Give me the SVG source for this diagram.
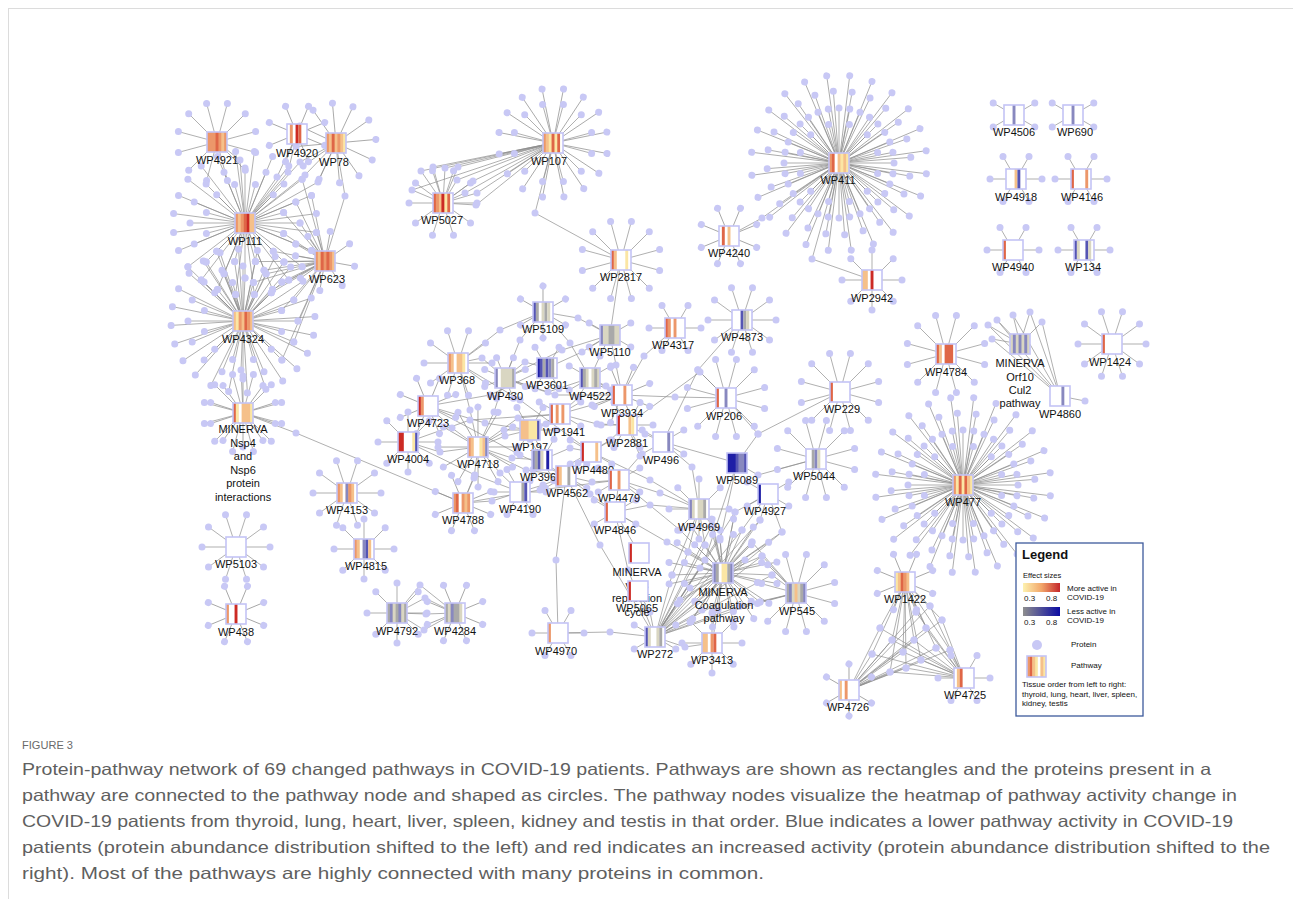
<svg xmlns="http://www.w3.org/2000/svg" xmlns:xlink="http://www.w3.org/1999/xlink" width="1293" height="899" viewBox="0 0 1293 899">
<style>
.ln{fill:none;stroke:#8e8e8e;stroke-width:.7}
.pt{fill:none;stroke:none;marker-start:url(#m);marker-mid:url(#m);marker-end:url(#m)}
.bx{fill:none;stroke:#c4c4f6;stroke-width:1.6}
.bg{fill:#fff}
.lb{font-family:"Liberation Sans",Arial,sans-serif;font-size:11px;fill:#111;text-anchor:middle}
.a1{fill:#fbe6a4}.a2{fill:#f5c08a}.a3{fill:#ec976a}.a4{fill:#df6647}.a5{fill:#cc2a24}
.g1{fill:#d9d6c2}.g2{fill:#a9a9a9}.b2{fill:#8888bf}.b3{fill:#5555b4}.b4{fill:#1f1fa6}
.lg{font-family:"Liberation Sans",Arial,sans-serif;font-size:8px;fill:#111}
.cap{font-family:"Liberation Sans",Arial,sans-serif;font-size:16.5px;fill:#5f5f5f}
</style>
<defs>
<marker id="m" markerUnits="userSpaceOnUse" markerWidth="8" markerHeight="8" refX="4" refY="4" overflow="visible"><circle cx="4" cy="4" r="3.5" fill="#c8c8f5"/></marker>
<linearGradient id="gr"><stop offset="0" stop-color="#fdf2b0"/><stop offset=".5" stop-color="#f2a66a"/><stop offset="1" stop-color="#c4262b"/></linearGradient>
<linearGradient id="gb"><stop offset="0" stop-color="#8e8e8e"/><stop offset="1" stop-color="#0b0ba3"/></linearGradient>
<path id="S4" d="M0 0L20.8 12M0 0L-20.8 12M0 0L-20.8 -12M0 0L20.8 -12"/>
<path id="S6" d="M0 0L26 0M0 0L13 22.5M0 0L-13 22.5M0 0L-26 0M0 0L-13 -22.5M0 0L13 -22.5"/>
<path id="S8" d="M0 0L30 0M0 0L21.2 21.2M0 0L0 30M0 0L-21.2 21.2M0 0L-30 0M0 0L-21.2 -21.2M0 0L0 -30M0 0L21.2 -21.2"/>
<path id="S8s" d="M0 0L20.3 8.4M0 0L8.4 20.3M0 0L-8.4 20.3M0 0L-20.3 8.4M0 0L-20.3 -8.4M0 0L-8.4 -20.3M0 0L8.4 -20.3M0 0L20.3 -8.4"/>
<path id="S10" d="M0 0L34 0M0 0L27.5 20M0 0L10.5 32.3M0 0L-10.5 32.3M0 0L-27.5 20M0 0L-34 0M0 0L-27.5 -20M0 0L-10.5 -32.3M0 0L10.5 -32.3M0 0L27.5 -20"/>
<path id="S12" d="M0 0L38.6 10.4M0 0L28.3 28.3M0 0L10.4 38.6M0 0L-10.4 38.6M0 0L-28.3 28.3M0 0L-38.6 10.4M0 0L-38.6 -10.4M0 0L-28.3 -28.3M0 0L-10.4 -38.6M0 0L10.4 -38.6M0 0L28.3 -28.3M0 0L38.6 -10.4"/>
<path id="S16" d="M0 0L55 0M0 0L50.8 21M0 0L38.9 38.9M0 0L21 50.8M0 0L0 55M0 0L-21 50.8M0 0L-38.9 38.9M0 0L-50.8 21M0 0L-55 0M0 0L-50.8 -21M0 0L-38.9 -38.9M0 0L-21 -50.8M0 0L0 -55M0 0L21 -50.8M0 0L38.9 -38.9M0 0L50.8 -21"/>
<path id="S24" d="M0 0L71.4 9.4M0 0L66.5 27.6M0 0L57.1 43.8M0 0L43.8 57.1M0 0L27.6 66.5M0 0L9.4 71.4M0 0L-9.4 71.4M0 0L-27.6 66.5M0 0L-43.8 57.1M0 0L-57.1 43.8M0 0L-66.5 27.6M0 0L-71.4 9.4M0 0L-71.4 -9.4M0 0L-66.5 -27.6M0 0L-57.1 -43.8M0 0L-43.8 -57.1M0 0L-27.6 -66.5M0 0L-9.4 -71.4M0 0L9.4 -71.4M0 0L27.6 -66.5M0 0L43.8 -57.1M0 0L57.1 -43.8M0 0L66.5 -27.6M0 0L71.4 -9.4"/>
<path id="S24b" d="M0 0L88 0M0 0L85 22.8M0 0L76.2 44M0 0L62.2 62.2M0 0L44 76.2M0 0L22.8 85M0 0L0 88M0 0L-22.8 85M0 0L-44 76.2M0 0L-62.2 62.2M0 0L-76.2 44M0 0L-85 22.8M0 0L-88 0M0 0L-85 -22.8M0 0L-76.2 -44M0 0L-62.2 -62.2M0 0L-44 -76.2M0 0L-22.8 -85M0 0L0 -88M0 0L22.8 -85M0 0L44 -76.2M0 0L62.2 -62.2M0 0L76.2 -44M0 0L85 -22.8"/>
</defs>
<rect width="1293" height="899" fill="#fff"/>
<path d="M8 8.5H1293M8.5 8V899" stroke="#dcdcdc" fill="none"/>
<g id="connectors" class="ln">
<g id="net">
<use href="#S12" transform="translate(217 142)"/>
<use href="#S8" transform="translate(297 134) rotate(22.5)"/>
<use href="#S12" transform="translate(336 143) rotate(10)"/>
<use href="#S12" transform="translate(245 223)"/>
<use href="#S16" transform="translate(245 223)"/>
<use href="#S24" transform="translate(245 223)"/>
<use href="#S8" transform="translate(325 261) rotate(10)"/>
<use href="#S12" transform="translate(243 321)"/>
<use href="#S16" transform="translate(243 321)"/>
<use href="#S24" transform="translate(243 321) rotate(4)"/>
<use href="#S12" transform="translate(243 413)"/>
<use href="#S10" transform="translate(243 413) rotate(18)"/>
<use href="#S10" transform="translate(443 203)"/>
<use href="#S12" transform="translate(553 143)"/>
<use href="#S16" transform="translate(553 143) rotate(11)"/>
<use href="#S12" transform="translate(621 260)"/>
<use href="#S8" transform="translate(729 236) rotate(22.5)"/>
<use href="#S12" transform="translate(839 163)"/>
<use href="#S16" transform="translate(839 163)"/>
<use href="#S16" transform="translate(839 163) rotate(11.25)"/>
<use href="#S24" transform="translate(839 163) rotate(3)"/>
<use href="#S24b" transform="translate(839 163) rotate(7)"/>
<use href="#S8" transform="translate(872 280)"/>
<use href="#S4" transform="translate(1014 115)"/>
<use href="#S4" transform="translate(1073 115)"/>
<use href="#S6" transform="translate(1016 179)"/>
<use href="#S6" transform="translate(1081 179)"/>
<use href="#S6" transform="translate(1013 250)"/>
<use href="#S6" transform="translate(1084 250)"/>
<use href="#S12" transform="translate(946 354)"/>
<use href="#S10" transform="translate(1112 344)"/>
<use href="#S12" transform="translate(963 485)"/>
<use href="#S16" transform="translate(963 485)"/>
<use href="#S16" transform="translate(963 485) rotate(11.25)"/>
<use href="#S24" transform="translate(963 485) rotate(3)"/>
<use href="#S24b" transform="translate(963 485) rotate(7)"/>
<use href="#S8" transform="translate(905 582) rotate(22.5)"/>
<use href="#S6" transform="translate(849 690) rotate(30)"/>
<use href="#S6" transform="translate(964 678)"/>
<use href="#S6" transform="translate(543 312) rotate(30)"/>
<use href="#S4" transform="translate(610 335)"/>
<use href="#S4" transform="translate(547 368) rotate(90)"/>
<use href="#S4" transform="translate(590 378)"/>
<use href="#S8s" transform="translate(505 378)"/>
<use href="#S10" transform="translate(458 363)"/>
<use href="#S8" transform="translate(428 406) rotate(22.5)"/>
<use href="#S8" transform="translate(408 442)"/>
<use href="#S12" transform="translate(478 447) rotate(15)"/>
<use href="#S6" transform="translate(530 430)"/>
<use href="#S4" transform="translate(560 414)"/>
<use href="#S4" transform="translate(542 460) rotate(90)"/>
<use href="#S6" transform="translate(520 492)"/>
<use href="#S4" transform="translate(566 476)"/>
<use href="#S4" transform="translate(591 452)"/>
<use href="#S6" transform="translate(627 425)"/>
<use href="#S8" transform="translate(622 395) rotate(22.5)"/>
<use href="#S4" transform="translate(619 480)"/>
<use href="#S4" transform="translate(615 512)"/>
<use href="#S8" transform="translate(463 503) rotate(22.5)"/>
<use href="#S10" transform="translate(347 493)"/>
<use href="#S8" transform="translate(364 549)"/>
<use href="#S8" transform="translate(397 613)"/>
<use href="#S8" transform="translate(455 613) rotate(22.5)"/>
<use href="#S10" transform="translate(236 547)"/>
<use href="#S8" transform="translate(236 614) rotate(22.5)"/>
<use href="#S6" transform="translate(558 633)"/>
<use href="#S4" transform="translate(655 637)"/>
<use href="#S8" transform="translate(712 643)"/>
<use href="#S12" transform="translate(723 573)"/>
<use href="#S16" transform="translate(723 573) rotate(11)"/>
<use href="#S12" transform="translate(796 593)"/>
<use href="#S8" transform="translate(699 509)"/>
<use href="#S4" transform="translate(768 494)"/>
<use href="#S12" transform="translate(816 459)"/>
<use href="#S4" transform="translate(663 442)"/>
<use href="#S12" transform="translate(726 398)"/>
<use href="#S12" transform="translate(840 392)"/>
<use href="#S10" transform="translate(742 320)"/>
<use href="#S6" transform="translate(675 328)"/>
<path d="M325 261L300 223M325 261L295.8 244M325 261L283.9 261.9M325 261L266 273.8M325 261L316.4 232.4M325 261L311.5 250.6M325 261L302.1 266.8M325 261L288.8 280.1M325 261L272.6 289.5M325 261L283.6 233.4M325 261L273.3 251.3M325 261L255.4 261.6M325 261L295.8 202M325 261L311.5 195.4M325 261L302.1 179.2M325 261L283.6 212.6"/>
<path d="M243 321L245 278M243 321L224 273.8M243 321L206.1 261.9M243 321L266 273.8M243 321L254.4 294.4M243 321L235.6 294.4M243 321L217.4 289.5M243 321L201.2 280.1M243 321L272.6 289.5M243 321L234.6 261.6M243 321L216.7 251.3M243 321L255.4 261.6M243 321L187.9 266.8M243 321L283.9 261.9"/>
<path d="M325 261L298 321M325 261L293.8 300M325 261L281.9 282.1M325 261L264 270.2M325 261L293.8 342M325 261L281.9 359.9M325 261L281.6 310.6M325 261L271.3 292.7M325 261L253.4 282.4"/>
<path d="M245 223L300 162L336 143M245 223L305 175L336 143M245 223L288 172L297 134M245 223L277 177L297 134M245 223L318 182L336 143M217 142L240 160L245 223M325 261L345 196L336 143"/>
<path d="M243 321L241 370L243 413M243 413L296 433L463 503"/>
<path d="M553 143L421 171L443 203M553 143L433 167L443 203M553 143L445 168L443 203M553 143L458 167L443 203M553 143L473 181L443 203M553 143L477 193L443 203M553 143L476 205L443 203M553 143L465 193L443 203M553 143L457 180L443 203M553 143L412 190L443 203"/>
<path d="M553 143L535 213L621 260M621 260L610 335M839 163L762 218L729 236M839 163L812 259L872 280"/>
<path d="M675 328L644 356L622 395M742 320L698 370L663 442M726 398L758 434L840 392M758 434L737 463M622 395L675 397L726 398M627 425L700 372L726 398M663 442L737 463M663 442L692 467L699 509M737 463L758 475L816 459M737 463L720 540L723 573M737 463L705 560L655 637"/>
<path d="M655 637L680 600L723 573M655 637L690 588L723 573M655 637L700 568L723 573M655 637L688 552L723 573M655 637L705 545L723 573M655 637L720 538L723 573M655 637L742 530L723 573M655 637L752 542L723 573M655 637L762 556L723 573M655 637L745 560L723 573M655 637L772 575L723 573M655 637L760 602L723 573M655 637L740 606L723 573M655 637L702 610L723 573M655 637L690 622L723 573M655 637L760 520L723 573M655 637L782 532L723 573M655 637L672 575L723 573M655 637L735 512L723 573M655 637L712 525L723 573"/>
<path d="M699 509L705 545M699 509L688 552M699 509L672 575M699 509L712 525M768 494L742 530M768 494L760 520M768 494L782 532M768 494L735 512M796 593L772 575M796 593L760 602M796 593L762 556M796 593L752 542M796 593L740 606M655 637L685 647L712 643M712 643L718 610L723 573"/>
<path d="M558 633L610 632L655 637M558 633L556 560L566 476M615 512L639 553M638 591L650 612L655 637M615 512L667 542L723 573M619 480L660 493L699 509M615 512L650 505L699 509M615 512L628 570L655 637M566 476L600 545L655 637M619 480L680 530L723 573M699 509L650 480L591 452"/>
<path d="M505 378L520 340L543 312M505 378L525 362L547 368M505 378L548 392L590 378M505 378L562 350L610 335M543 312L578 318L610 335M543 312L570 343L590 378M547 368L582 352L610 335M458 363L482 358L505 378M458 363L470 410L478 447M505 378L494 412L478 447M428 406L452 428L478 447M408 442L440 452L478 447M428 406L485 423L530 430M478 447L505 436L530 430M478 447L512 458L542 460M478 447L500 473L520 492M478 447L474 478L463 503M463 503L492 501L520 492M478 447L518 418L560 414M478 447L526 470L566 476M530 430L546 424L560 414M560 414L578 398L590 378M560 414L592 405L622 395M560 414L597 424L627 425M542 460L570 448L591 452M566 476L578 463L591 452M566 476L592 482L619 480M520 492L543 485L566 476M591 452L610 440L627 425M619 480L640 456L627 425M615 512L590 494L566 476M619 480L615 512M590 378L606 386L622 395M627 425L645 434L663 442M610 335L600 356L590 378M610 335L616 365L622 395M428 406L490 395L547 368M408 442L470 420L560 414M458 363L520 400L591 452M428 406L520 455L566 476M463 503L540 490L619 480M408 442L475 475L520 492M458 363L500 330L543 312M505 378L555 395L622 395"/>
<path d="M397 613L425 598L455 613M397 613L426 614L455 613M397 613L424 630L455 613M397 613L420 585L455 613"/>
<path d="M905 582L880 628L849 690M880 628L964 678M905 582L892 640L849 690M892 640L964 678M905 582L903 652L849 690M903 652L964 678M905 582L914 640L849 690M914 640L964 678M905 582L926 628L849 690M926 628L964 678M905 582L936 648L849 690M936 648L964 678M905 582L921 660L849 690M921 660L964 678M905 582L906 668L849 690M906 668L964 678M905 582L890 672L849 690M890 672L964 678M905 582L930 606L849 690M930 606L964 678M905 582L942 620L849 690M942 620L964 678M905 582L872 654L849 690M872 654L964 678M905 582L916 612L849 690M916 612L964 678M905 582L950 650L849 690M950 650L964 678"/>
<path d="M1020 344L992 339L1060 396M1020 344L988 325L1060 396M1020 344L1013 315L1060 396M1020 344L1030 312L1060 396M1020 344L1042 322L1060 396M1020 344L997 320L1060 396M1060 396L1085 401"/>
</g>
</g>
<g id="proteins" class="pt"><use href="#net"/></g>
<g id="nodes">
<g id="WP4921" transform="translate(207 132)"><rect class="a3" width="20" height="20"/><rect class="a4" x="8.57" width="2.9" height="20"/><rect class="a2" x="14.29" width="2.9" height="20"/><rect class="bx" width="20" height="20"/><text class="lb" x="10" y="31.5">WP4921</text></g>
<g id="WP4920" transform="translate(287 124)"><rect class="bg" width="20" height="20"/><rect class="a3" x="2.86" width="2.9" height="20"/><rect class="a5" x="8.57" width="2.9" height="20"/><rect class="a4" x="11.43" width="2.9" height="20"/><rect class="bx" width="20" height="20"/><text class="lb" x="10" y="32.5">WP4920</text></g>
<g id="WP78" transform="translate(326 133)"><rect class="a2" width="20" height="20"/><rect class="a3" x="0" width="2.9" height="20"/><rect class="a4" x="5.71" width="2.9" height="20"/><rect class="a3" x="11.43" width="2.9" height="20"/><rect class="a1" x="17.14" width="2.9" height="20"/><rect class="bx" width="20" height="20"/><text class="lb" x="8" y="32.5">WP78</text></g>
<g id="WP111" transform="translate(235 213)"><rect class="a2" width="20" height="20"/><rect class="a3" x="0" width="2.9" height="20"/><rect class="a3" x="5.71" width="2.9" height="20"/><rect class="a4" x="8.57" width="2.9" height="20"/><rect class="a5" x="11.43" width="2.9" height="20"/><rect class="bx" width="20" height="20"/><text class="lb" x="10" y="31.5">WP111</text></g>
<g id="WP623" transform="translate(315 251)"><rect class="a3" width="20" height="20"/><rect class="a2" x="2.86" width="2.9" height="20"/><rect class="a4" x="5.71" width="2.9" height="20"/><rect class="a4" x="11.43" width="2.9" height="20"/><rect class="a2" x="17.14" width="2.9" height="20"/><rect class="bx" width="20" height="20"/><text class="lb" x="12" y="32">WP623</text></g>
<g id="WP4324" transform="translate(233 311)"><rect class="a2" width="20" height="20"/><rect class="a1" x="2.86" width="2.9" height="20"/><rect class="a3" x="5.71" width="2.9" height="20"/><rect class="a4" x="11.43" width="2.9" height="20"/><rect class="a3" x="14.29" width="2.9" height="20"/><rect class="bx" width="20" height="20"/><text class="lb" x="10" y="32">WP4324</text></g>
<g id="MINERVA_Nsp4" transform="translate(233 403)"><rect class="a2" width="20" height="20"/><rect class="a4" x="0" width="2.9" height="20"/><rect class="a1" x="2.86" width="2.9" height="20"/><rect class="bg" x="5.71" width="2.9" height="20"/><rect class="a1" x="17.14" width="2.9" height="20"/><rect class="bx" width="20" height="20"/><text class="lb" x="10" y="30">MINERVA</text><text class="lb" x="10" y="43.5">Nsp4</text><text class="lb" x="10" y="57">and</text><text class="lb" x="10" y="70.5">Nsp6</text><text class="lb" x="10" y="84">protein</text><text class="lb" x="10" y="97.5">interactions</text></g>
<g id="WP5027" transform="translate(433 193)"><rect class="a4" width="20" height="20"/><rect class="a3" x="2.86" width="2.9" height="20"/><rect class="a2" x="5.71" width="2.9" height="20"/><rect class="a5" x="8.57" width="2.9" height="20"/><rect class="a1" x="11.43" width="2.9" height="20"/><rect class="bg" x="17.14" width="2.9" height="20"/><rect class="bx" width="20" height="20"/><text class="lb" x="9" y="31">WP5027</text></g>
<g id="WP107" transform="translate(543 133)"><rect class="a1" width="20" height="20"/><rect class="a3" x="0" width="2.9" height="20"/><rect class="a2" x="2.86" width="2.9" height="20"/><rect class="a4" x="8.57" width="2.9" height="20"/><rect class="a4" x="14.29" width="2.9" height="20"/><rect class="bg" x="17.14" width="2.9" height="20"/><rect class="bx" width="20" height="20"/><text class="lb" x="6" y="31.5">WP107</text></g>
<g id="WP2817" transform="translate(611 250)"><rect class="bg" width="20" height="20"/><rect class="a4" x="0" width="2.9" height="20"/><rect class="a2" x="2.86" width="2.9" height="20"/><rect class="a1" x="14.29" width="2.9" height="20"/><rect class="bx" width="20" height="20"/><text class="lb" x="10" y="31">WP2817</text></g>
<g id="WP4240" transform="translate(719 226)"><rect class="bg" width="20" height="20"/><rect class="a4" x="2.86" width="2.9" height="20"/><rect class="a2" x="8.57" width="2.9" height="20"/><rect class="bx" width="20" height="20"/><text class="lb" x="10" y="31">WP4240</text></g>
<g id="WP411" transform="translate(829 153)"><rect class="a2" width="20" height="20"/><rect class="a3" x="0" width="2.9" height="20"/><rect class="a4" x="2.86" width="2.9" height="20"/><rect class="bg" x="5.71" width="2.9" height="20"/><rect class="a1" x="11.43" width="2.9" height="20"/><rect class="a1" x="17.14" width="2.9" height="20"/><rect class="bx" width="20" height="20"/><text class="lb" x="9" y="31">WP411</text></g>
<g id="WP2942" transform="translate(862 270)"><rect class="bg" width="20" height="20"/><rect class="a2" x="0" width="5.8" height="20"/><rect class="a5" x="8.57" width="2.9" height="20"/><rect class="bx" width="20" height="20"/><text class="lb" x="10" y="31.5">WP2942</text></g>
<g id="WP4506" transform="translate(1004 105)"><rect class="bg" width="20" height="20"/><rect class="b2" x="8.57" width="2.9" height="20"/><rect class="bx" width="20" height="20"/><text class="lb" x="10" y="31">WP4506</text></g>
<g id="WP690" transform="translate(1063 105)"><rect class="bg" width="20" height="20"/><rect class="b2" x="8.57" width="2.9" height="20"/><rect class="bx" width="20" height="20"/><text class="lb" x="12" y="31">WP690</text></g>
<g id="WP4918" transform="translate(1006 169)"><rect class="bg" width="20" height="20"/><rect class="a2" x="8.57" width="2.9" height="20"/><rect class="b3" x="11.43" width="2.9" height="20"/><rect class="bx" width="20" height="20"/><text class="lb" x="10" y="31.5">WP4918</text></g>
<g id="WP4146" transform="translate(1071 169)"><rect class="bg" width="20" height="20"/><rect class="a4" x="0" width="2.9" height="20"/><rect class="a3" x="14.29" width="2.9" height="20"/><rect class="bx" width="20" height="20"/><text class="lb" x="11" y="31.5">WP4146</text></g>
<g id="WP4940" transform="translate(1003 240)"><rect class="bg" width="20" height="20"/><rect class="a4" x="0" width="2.9" height="20"/><rect class="bx" width="20" height="20"/><text class="lb" x="10" y="31">WP4940</text></g>
<g id="WP134" transform="translate(1074 240)"><rect class="bg" width="20" height="20"/><rect class="b3" x="0" width="2.9" height="20"/><rect class="g1" x="2.86" width="2.9" height="20"/><rect class="b3" x="11.43" width="2.9" height="20"/><rect class="g1" x="14.29" width="2.9" height="20"/><rect class="bx" width="20" height="20"/><text class="lb" x="9" y="31">WP134</text></g>
<g id="WP4784" transform="translate(936 344)"><rect class="a4" width="20" height="20"/><rect class="a2" x="2.86" width="2.9" height="20"/><rect class="bg" x="5.71" width="2.9" height="20"/><rect class="bg" x="17.14" width="2.9" height="20"/><rect class="bx" width="20" height="20"/><text class="lb" x="10" y="31.5">WP4784</text></g>
<g id="MINERVA_Orf10" transform="translate(1010 334)"><rect class="g1" width="20" height="20"/><rect class="b2" x="2.86" width="2.9" height="20"/><rect class="b2" x="8.57" width="2.9" height="20"/><rect class="b2" x="14.29" width="2.9" height="20"/><rect class="bx" width="20" height="20"/><text class="lb" x="10" y="33">MINERVA</text><text class="lb" x="10" y="47">Orf10</text><text class="lb" x="10" y="60">Cul2</text><text class="lb" x="10" y="73">pathway</text></g>
<g id="WP4860" transform="translate(1050 386)"><rect class="bg" width="20" height="20"/><rect class="b2" x="11.43" width="2.9" height="20"/><rect class="bx" width="20" height="20"/><text class="lb" x="10" y="31.5">WP4860</text></g>
<g id="WP1424" transform="translate(1102 334)"><rect class="bg" width="20" height="20"/><rect class="a4" x="0" width="2.9" height="20"/><rect class="bx" width="20" height="20"/><text class="lb" x="8" y="31.5">WP1424</text></g>
<g id="WP477" transform="translate(953 475)"><rect class="a1" width="20" height="20"/><rect class="a3" x="0" width="2.9" height="20"/><rect class="a4" x="5.71" width="2.9" height="20"/><rect class="a4" x="11.43" width="2.9" height="20"/><rect class="a2" x="14.29" width="2.9" height="20"/><rect class="bx" width="20" height="20"/><text class="lb" x="10" y="31">WP477</text></g>
<g id="WP1422" transform="translate(895 572)"><rect class="a2" width="20" height="20"/><rect class="a1" x="0" width="2.9" height="20"/><rect class="a4" x="5.71" width="2.9" height="20"/><rect class="a3" x="8.57" width="2.9" height="20"/><rect class="bg" x="14.29" width="5.8" height="20"/><rect class="bx" width="20" height="20"/><text class="lb" x="10" y="31">WP1422</text></g>
<g id="WP4726" transform="translate(839 680)"><rect class="bg" width="20" height="20"/><rect class="a2" x="0" width="2.9" height="20"/><rect class="a3" x="5.71" width="2.9" height="20"/><rect class="bx" width="20" height="20"/><text class="lb" x="9" y="31">WP4726</text></g>
<g id="WP4725" transform="translate(954 668)"><rect class="bg" width="20" height="20"/><rect class="a2" x="2.86" width="2.9" height="20"/><rect class="a4" x="5.71" width="2.9" height="20"/><rect class="bx" width="20" height="20"/><text class="lb" x="11" y="31">WP4725</text></g>
<g id="WP5109" transform="translate(533 302)"><rect class="bg" width="20" height="20"/><rect class="b3" x="0" width="2.9" height="20"/><rect class="g2" x="2.86" width="2.9" height="20"/><rect class="g1" x="8.57" width="2.9" height="20"/><rect class="g2" x="11.43" width="2.9" height="20"/><rect class="g1" x="14.29" width="2.9" height="20"/><rect class="bx" width="20" height="20"/><text class="lb" x="10" y="31">WP5109</text></g>
<g id="WP5110" transform="translate(600 325)"><rect class="g1" width="20" height="20"/><rect class="b2" x="0" width="2.9" height="20"/><rect class="g2" x="8.57" width="5.8" height="20"/><rect class="bx" width="20" height="20"/><text class="lb" x="10" y="31">WP5110</text></g>
<g id="WP3601" transform="translate(537 358)"><rect class="bg" width="20" height="20"/><rect class="b4" x="0" width="2.9" height="20"/><rect class="b3" x="2.86" width="2.9" height="20"/><rect class="g2" x="5.71" width="2.9" height="20"/><rect class="b3" x="8.57" width="2.9" height="20"/><rect class="b2" x="11.43" width="2.9" height="20"/><rect class="g2" x="14.29" width="2.9" height="20"/><rect class="bx" width="20" height="20"/><text class="lb" x="10" y="31">WP3601</text></g>
<g id="WP4522" transform="translate(580 368)"><rect class="g1" width="20" height="20"/><rect class="b3" x="0" width="2.9" height="20"/><rect class="g2" x="2.86" width="2.9" height="20"/><rect class="bg" x="8.57" width="2.9" height="20"/><rect class="g2" x="14.29" width="2.9" height="20"/><rect class="bx" width="20" height="20"/><text class="lb" x="10" y="32">WP4522</text></g>
<g id="WP430" transform="translate(495 368)"><rect class="g1" width="20" height="20"/><rect class="b2" x="0" width="2.9" height="20"/><rect class="bg" x="2.86" width="2.9" height="20"/><rect class="g2" x="17.14" width="2.9" height="20"/><rect class="bx" width="20" height="20"/><text class="lb" x="10" y="32">WP430</text></g>
<g id="WP368" transform="translate(448 353)"><rect class="a2" width="20" height="20"/><rect class="a3" x="0" width="2.9" height="20"/><rect class="bg" x="5.71" width="2.9" height="20"/><rect class="a1" x="14.29" width="2.9" height="20"/><rect class="bg" x="17.14" width="2.9" height="20"/><rect class="bx" width="20" height="20"/><text class="lb" x="9" y="31">WP368</text></g>
<g id="WP4723" transform="translate(418 396)"><rect class="bg" width="20" height="20"/><rect class="a5" x="0" width="2.9" height="20"/><rect class="a3" x="2.86" width="2.9" height="20"/><rect class="bx" width="20" height="20"/><text class="lb" x="10" y="31">WP4723</text></g>
<g id="WP4004" transform="translate(398 432)"><rect class="bg" width="20" height="20"/><rect class="a5" x="0" width="5.8" height="20"/><rect class="a1" x="14.29" width="2.9" height="20"/><rect class="b3" x="17.14" width="2.9" height="20"/><rect class="bx" width="20" height="20"/><text class="lb" x="10" y="31">WP4004</text></g>
<g id="WP4718" transform="translate(468 437)"><rect class="bg" width="20" height="20"/><rect class="a3" x="0" width="2.9" height="20"/><rect class="a2" x="2.86" width="2.9" height="20"/><rect class="a1" x="11.43" width="2.9" height="20"/><rect class="a2" x="14.29" width="2.9" height="20"/><rect class="b2" x="17.14" width="2.9" height="20"/><rect class="bx" width="20" height="20"/><text class="lb" x="10" y="31">WP4718</text></g>
<g id="WP197" transform="translate(520 420)"><rect class="a2" width="20" height="20"/><rect class="a1" x="8.57" width="8.6" height="20"/><rect class="b3" x="17.14" width="2.9" height="20"/><rect class="bx" width="20" height="20"/><text class="lb" x="10" y="31">WP197</text></g>
<g id="WP1941" transform="translate(550 404)"><rect class="bg" width="20" height="20"/><rect class="a4" x="0" width="2.9" height="20"/><rect class="a3" x="5.71" width="2.9" height="20"/><rect class="a3" x="11.43" width="2.9" height="20"/><rect class="bx" width="20" height="20"/><text class="lb" x="14" y="32">WP1941</text></g>
<g id="WP396" transform="translate(532 450)"><rect class="bg" width="20" height="20"/><rect class="b2" x="0" width="2.9" height="20"/><rect class="g2" x="2.86" width="2.9" height="20"/><rect class="b3" x="5.71" width="2.9" height="20"/><rect class="g1" x="8.57" width="2.9" height="20"/><rect class="b4" x="14.29" width="2.9" height="20"/><rect class="bx" width="20" height="20"/><text class="lb" x="6" y="31">WP396</text></g>
<g id="WP4190" transform="translate(510 482)"><rect class="bg" width="20" height="20"/><rect class="g2" x="11.43" width="2.9" height="20"/><rect class="b3" x="14.29" width="2.9" height="20"/><rect class="bx" width="20" height="20"/><text class="lb" x="10" y="31">WP4190</text></g>
<g id="WP4562" transform="translate(556 466)"><rect class="bg" width="20" height="20"/><rect class="a4" x="0" width="2.9" height="20"/><rect class="a2" x="2.86" width="2.9" height="20"/><rect class="g2" x="11.43" width="2.9" height="20"/><rect class="bx" width="20" height="20"/><text class="lb" x="11" y="31">WP4562</text></g>
<g id="WP4480" transform="translate(581 442)"><rect class="bg" width="20" height="20"/><rect class="a5" x="0" width="2.9" height="20"/><rect class="a2" x="14.29" width="2.9" height="20"/><rect class="bx" width="20" height="20"/><text class="lb" x="12" y="32">WP4480</text></g>
<g id="WP2881" transform="translate(617 415)"><rect class="bg" width="20" height="20"/><rect class="a5" x="0" width="2.9" height="20"/><rect class="a2" x="11.43" width="2.9" height="20"/><rect class="a1" x="14.29" width="2.9" height="20"/><rect class="bx" width="20" height="20"/><text class="lb" x="10" y="32">WP2881</text></g>
<g id="WP3934" transform="translate(612 385)"><rect class="bg" width="20" height="20"/><rect class="a4" x="0" width="2.9" height="20"/><rect class="a3" x="11.43" width="2.9" height="20"/><rect class="bx" width="20" height="20"/><text class="lb" x="10" y="32">WP3934</text></g>
<g id="WP4479" transform="translate(609 470)"><rect class="bg" width="20" height="20"/><rect class="a4" x="0" width="2.9" height="20"/><rect class="a3" x="8.57" width="2.9" height="20"/><rect class="bx" width="20" height="20"/><text class="lb" x="10" y="32">WP4479</text></g>
<g id="WP4846" transform="translate(605 502)"><rect class="bg" width="20" height="20"/><rect class="a4" x="0" width="2.9" height="20"/><rect class="bx" width="20" height="20"/><text class="lb" x="10" y="32">WP4846</text></g>
<g id="MINERVA_virus" transform="translate(629 543)"><rect class="bg" width="20" height="20"/><rect class="a5" x="0" width="2.9" height="20"/><rect class="bx" width="20" height="20"/><text class="lb" x="8" y="33">MINERVA</text><text class="lb" x="8" y="46">virus</text><text class="lb" x="8" y="59">replication</text><text class="lb" x="8" y="73">cycle</text></g>
<g id="WP5065" transform="translate(628 581)"><rect class="bg" width="20" height="20"/><rect class="a5" x="0" width="2.9" height="20"/><rect class="bx" width="20" height="20"/><text class="lb" x="9" y="31">WP5065</text></g>
<g id="WP4788" transform="translate(453 493)"><rect class="a3" width="20" height="20"/><rect class="a4" x="2.86" width="2.9" height="20"/><rect class="bg" x="5.71" width="2.9" height="20"/><rect class="a2" x="11.43" width="2.9" height="20"/><rect class="bg" x="17.14" width="2.9" height="20"/><rect class="bx" width="20" height="20"/><text class="lb" x="10" y="31">WP4788</text></g>
<g id="WP4153" transform="translate(337 483)"><rect class="a2" width="20" height="20"/><rect class="a3" x="0" width="2.9" height="20"/><rect class="bg" x="5.71" width="2.9" height="20"/><rect class="b2" x="8.57" width="2.9" height="20"/><rect class="a3" x="11.43" width="2.9" height="20"/><rect class="bg" x="17.14" width="2.9" height="20"/><rect class="bx" width="20" height="20"/><text class="lb" x="10" y="31">WP4153</text></g>
<g id="WP4815" transform="translate(354 539)"><rect class="bg" width="20" height="20"/><rect class="a3" x="0" width="2.9" height="20"/><rect class="a2" x="2.86" width="2.9" height="20"/><rect class="b2" x="8.57" width="2.9" height="20"/><rect class="b3" x="11.43" width="2.9" height="20"/><rect class="a2" x="14.29" width="2.9" height="20"/><rect class="bx" width="20" height="20"/><text class="lb" x="12" y="31">WP4815</text></g>
<g id="WP4792" transform="translate(387 603)"><rect class="g2" width="20" height="20"/><rect class="b2" x="2.86" width="2.9" height="20"/><rect class="g1" x="5.71" width="2.9" height="20"/><rect class="b2" x="11.43" width="2.9" height="20"/><rect class="g1" x="14.29" width="2.9" height="20"/><rect class="bx" width="20" height="20"/><text class="lb" x="10" y="31.5">WP4792</text></g>
<g id="WP4284" transform="translate(445 603)"><rect class="g2" width="20" height="20"/><rect class="g1" x="2.86" width="2.9" height="20"/><rect class="b2" x="5.71" width="2.9" height="20"/><rect class="g1" x="14.29" width="2.9" height="20"/><rect class="bg" x="17.14" width="2.9" height="20"/><rect class="bx" width="20" height="20"/><text class="lb" x="10" y="31.5">WP4284</text></g>
<g id="WP5103" transform="translate(226 537)"><rect class="bg" width="20" height="20"/><rect class="bx" width="20" height="20"/><text class="lb" x="10" y="31">WP5103</text></g>
<g id="WP438" transform="translate(226 604)"><rect class="bg" width="20" height="20"/><rect class="a3" x="0" width="2.9" height="20"/><rect class="a5" x="8.57" width="2.9" height="20"/><rect class="bx" width="20" height="20"/><text class="lb" x="10" y="32">WP438</text></g>
<g id="WP4970" transform="translate(548 623)"><rect class="bg" width="20" height="20"/><rect class="a3" x="0" width="2.9" height="20"/><rect class="bx" width="20" height="20"/><text class="lb" x="8" y="32">WP4970</text></g>
<g id="WP272" transform="translate(645 627)"><rect class="bg" width="20" height="20"/><rect class="b3" x="0" width="2.9" height="20"/><rect class="g1" x="2.86" width="2.9" height="20"/><rect class="g1" x="11.43" width="2.9" height="20"/><rect class="g2" x="14.29" width="2.9" height="20"/><rect class="bx" width="20" height="20"/><text class="lb" x="10" y="31">WP272</text></g>
<g id="WP3413" transform="translate(702 633)"><rect class="bg" width="20" height="20"/><rect class="a2" x="0" width="5.8" height="20"/><rect class="a3" x="8.57" width="2.9" height="20"/><rect class="a4" x="11.43" width="2.9" height="20"/><rect class="bx" width="20" height="20"/><text class="lb" x="10" y="31">WP3413</text></g>
<g id="MINERVA_Coagulation" transform="translate(713 563)"><rect class="bg" width="20" height="20"/><rect class="b2" x="0" width="2.9" height="20"/><rect class="g2" x="2.86" width="2.9" height="20"/><rect class="a1" x="8.57" width="5.8" height="20"/><rect class="g2" x="14.29" width="2.9" height="20"/><rect class="b2" x="17.14" width="2.9" height="20"/><rect class="bx" width="20" height="20"/><text class="lb" x="10" y="33">MINERVA</text><text class="lb" x="11" y="46">Coagulation</text><text class="lb" x="11" y="59">pathway</text></g>
<g id="WP545" transform="translate(786 583)"><rect class="g1" width="20" height="20"/><rect class="g2" x="0" width="2.9" height="20"/><rect class="b2" x="2.86" width="2.9" height="20"/><rect class="a2" x="8.57" width="2.9" height="20"/><rect class="g2" x="14.29" width="2.9" height="20"/><rect class="b2" x="17.14" width="2.9" height="20"/><rect class="bx" width="20" height="20"/><text class="lb" x="11" y="32">WP545</text></g>
<g id="WP4969" transform="translate(689 499)"><rect class="g1" width="20" height="20"/><rect class="b2" x="0" width="2.9" height="20"/><rect class="bg" x="5.71" width="2.9" height="20"/><rect class="g2" x="14.29" width="2.9" height="20"/><rect class="bg" x="17.14" width="2.9" height="20"/><rect class="bx" width="20" height="20"/><text class="lb" x="10" y="32">WP4969</text></g>
<g id="WP4927" transform="translate(758 484)"><rect class="bg" width="20" height="20"/><rect class="b4" x="0" width="2.9" height="20"/><rect class="bx" width="20" height="20"/><text class="lb" x="7" y="31">WP4927</text></g>
<g id="WP5089" transform="translate(727 453)"><rect class="b3" width="20" height="20"/><rect class="b4" x="0" width="8.6" height="20"/><rect class="b2" x="11.43" width="5.8" height="20"/><rect class="bx" width="20" height="20"/><text class="lb" x="10" y="31">WP5089</text></g>
<g id="WP5044" transform="translate(806 449)"><rect class="bg" width="20" height="20"/><rect class="g2" x="5.71" width="2.9" height="20"/><rect class="b2" x="8.57" width="2.9" height="20"/><rect class="g1" x="11.43" width="2.9" height="20"/><rect class="bx" width="20" height="20"/><text class="lb" x="8" y="31">WP5044</text></g>
<g id="WP496" transform="translate(653 432)"><rect class="bg" width="20" height="20"/><rect class="b2" x="14.29" width="2.9" height="20"/><rect class="bx" width="20" height="20"/><text class="lb" x="8" y="32">WP496</text></g>
<g id="WP206" transform="translate(716 388)"><rect class="bg" width="20" height="20"/><rect class="a4" x="0" width="2.9" height="20"/><rect class="b2" x="8.57" width="2.9" height="20"/><rect class="bx" width="20" height="20"/><text class="lb" x="8" y="31.5">WP206</text></g>
<g id="WP229" transform="translate(830 382)"><rect class="bg" width="20" height="20"/><rect class="a4" x="0" width="2.9" height="20"/><rect class="bx" width="20" height="20"/><text class="lb" x="12" y="31">WP229</text></g>
<g id="WP4873" transform="translate(732 310)"><rect class="bg" width="20" height="20"/><rect class="b3" x="8.57" width="2.9" height="20"/><rect class="g2" x="11.43" width="2.9" height="20"/><rect class="g1" x="14.29" width="2.9" height="20"/><rect class="bx" width="20" height="20"/><text class="lb" x="10" y="31">WP4873</text></g>
<g id="WP4317" transform="translate(665 318)"><rect class="bg" width="20" height="20"/><rect class="a4" x="0" width="2.9" height="20"/><rect class="a3" x="2.86" width="2.9" height="20"/><rect class="a3" x="8.57" width="2.9" height="20"/><rect class="bx" width="20" height="20"/><text class="lb" x="8" y="31">WP4317</text></g>
</g>
<g id="legend">
<rect x="1016" y="543" width="127" height="173" fill="#fff" stroke="#3d5a9c" stroke-width="1.3"/>
<text x="1022" y="559" style="font-family:'Liberation Sans',Arial,sans-serif;font-size:13px;font-weight:bold;fill:#111">Legend</text>
<text class="lg" x="1023" y="578" style="font-size:7.5px">Effect sizes</text>
<rect x="1023" y="583" width="37" height="9" fill="url(#gr)"/>
<text class="lg" x="1067" y="591">More active in</text>
<text class="lg" x="1067" y="600">COVID-19</text>
<text class="lg" x="1024" y="601">0.3</text>
<text class="lg" x="1046" y="601">0.8</text>
<rect x="1023" y="607" width="37" height="9" fill="url(#gb)"/>
<text class="lg" x="1067" y="614">Less active in</text>
<text class="lg" x="1067" y="623">COVID-19</text>
<text class="lg" x="1024" y="625">0.3</text>
<text class="lg" x="1046" y="625">0.8</text>
<circle cx="1037" cy="645" r="5" fill="#c8c8f5"/>
<text class="lg" x="1071" y="647">Protein</text>
<g transform="translate(1027 656)"><rect class="a1" width="19" height="21"/><rect class="a3" x="0" width="2.8" height="21"/><rect class="a4" x="2.7" width="2.8" height="21"/><rect class="a2" x="5.4" width="2.8" height="21"/><rect class="bg" x="10.8" width="2.8" height="21"/><rect class="a2" x="13.5" width="2.8" height="21"/><rect class="bx" width="19" height="21"/></g>
<text class="lg" x="1071" y="668">Pathway</text>
<text class="lg" x="1022" y="687">Tissue order from left to right:</text>
<text class="lg" x="1022" y="697">thyroid, lung, heart, liver, spleen,</text>
<text class="lg" x="1022" y="706">kidney, testis</text>
</g>
<g id="caption">
<text x="22" y="749" textLength="51" lengthAdjust="spacingAndGlyphs" style="font-family:'Liberation Sans',Arial,sans-serif;font-size:11.5px;fill:#6a6a6a">FIGURE 3</text>
<text class="cap" x="22" y="775" textLength="1189" lengthAdjust="spacingAndGlyphs">Protein-pathway network of 69 changed pathways in COVID-19 patients. Pathways are shown as rectangles and the proteins present in a</text>
<text class="cap" x="22" y="801" textLength="1215" lengthAdjust="spacingAndGlyphs">pathway are connected to the pathway node and shaped as circles. The pathway nodes visualize the heatmap of pathway activity change in</text>
<text class="cap" x="22" y="827" textLength="1211" lengthAdjust="spacingAndGlyphs">COVID-19 patients from thyroid, lung, heart, liver, spleen, kidney and testis in that order. Blue indicates a lower pathway activity in COVID-19</text>
<text class="cap" x="22" y="853" textLength="1248" lengthAdjust="spacingAndGlyphs">patients (protein abundance distribution shifted to the left) and red indicates an increased activity (protein abundance distribution shifted to the</text>
<text class="cap" x="22" y="879" textLength="742" lengthAdjust="spacingAndGlyphs">right). Most of the pathways are highly connected with many proteins in common.</text>
</g>
</svg>
